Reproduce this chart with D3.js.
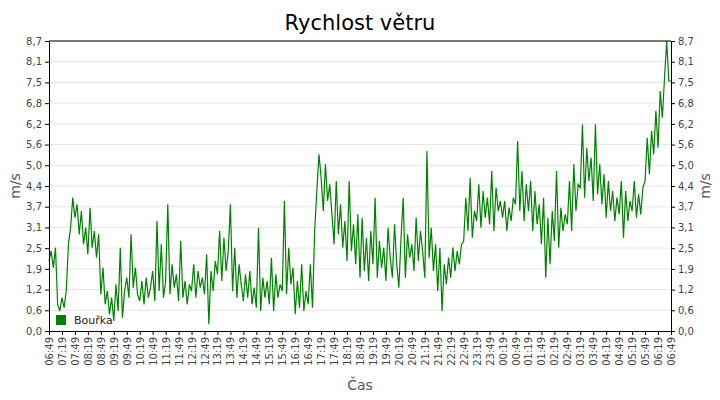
<!DOCTYPE html>
<html><head><meta charset="utf-8">
<script src="https://cdn.jsdelivr.net/npm/d3@7"></script>
<style>body{margin:0;background:#fff}text{font-family:"DejaVu Sans",sans-serif}</style>
</head><body><div id="chart"></div>
<script>
const title = 'Rychlost větru';
const seriesName = 'Bouřka';
const startTime = new Date(2020, 0, 1, 6, 49);
const stepMinutes = 5;
// m/s, one value per 5 minutes, 06:49 -> 06:49
const windValues = [
 2.1,2.4,1.9,2.5,0.8,0.6, 1.0,0.7,1.2,2.6,3.1,4.0,
 3.4,3.8,2.9,3.6,2.6,3.1, 2.3,3.7,2.5,3.0,2.2,2.9,
 1.1,1.9,0.8,1.2,0.5,1.0, 0.3,1.4,0.6,2.5,0.4,1.2,
 1.6,1.0,2.9,1.3,1.9,1.1, 0.9,1.5,0.8,1.6,1.0,1.3,
 1.8,0.9,3.3,1.2,2.6,1.0, 1.5,3.8,1.1,2.0,1.3,1.7,
 0.9,2.7,1.0,1.5,0.8,1.4, 1.2,2.0,1.0,1.8,1.3,1.6,
 1.1,2.3,0.2,1.8,1.2,2.1, 1.7,3.0,1.5,2.8,1.8,2.4,
 3.8,1.2,2.5,1.0,2.0,1.4, 0.9,1.7,1.0,1.8,0.8,1.3,
 0.7,3.1,0.6,1.6,1.0,1.5, 0.8,2.2,0.6,1.7,1.0,1.4,
 1.2,3.9,1.1,2.5,1.4,1.9, 0.5,1.5,0.7,2.0,0.6,1.2,
 0.8,2.0,0.7,3.0,4.2,5.3, 4.6,3.6,5.0,3.9,4.4,3.5,
 2.6,4.5,2.9,3.8,2.5,3.3, 2.1,4.5,2.4,3.2,2.0,3.5,
 1.6,3.4,1.8,2.8,1.5,3.0, 2.0,4.0,1.6,2.7,1.9,2.5,
 1.5,3.1,2.2,1.6,3.2,2.0, 1.3,2.8,4.0,1.6,2.9,2.2,
 2.6,1.8,3.4,2.1,3.0,2.4, 1.6,5.4,2.2,3.1,1.8,2.6,
 1.2,2.5,0.6,2.0,1.4,2.2, 1.6,2.5,1.8,2.4,2.0,2.6,
 2.7,4.0,3.0,4.6,2.8,3.6, 3.3,4.4,3.1,4.2,3.4,4.0,
 3.2,4.8,3.0,4.3,3.6,3.9, 3.4,3.9,3.0,3.7,3.3,4.0,
 3.8,5.7,3.6,4.8,3.3,4.4, 3.6,4.5,3.0,4.2,3.2,3.8,
 2.6,4.0,1.6,3.4,2.0,3.6, 2.7,4.8,2.5,3.7,3.0,3.5,
 3.2,4.5,3.0,5.0,3.6,4.4, 4.3,6.2,4.0,5.5,4.5,5.2,
 3.9,6.2,4.1,5.0,3.8,4.7, 3.4,4.5,3.6,4.2,3.3,4.0,
 3.5,4.5,2.8,4.2,3.3,3.9, 3.6,4.5,3.4,4.1,3.5,4.3,
 4.5,5.8,4.7,6.0,5.3,6.6, 5.5,7.2,6.4,7.6,8.7,7.5
];

const W = 720, H = 400;
const m = {top: 41, right: 49, bottom: 69, left: 49};
const w = W - m.left - m.right, h = H - m.top - m.bottom;

const data = windValues.map((v, i) => ({t: new Date(+startTime + i * stepMinutes * 60000), v}));
const endTime = new Date(+startTime + 24 * 3600000);

const svg = d3.select('#chart').append('svg').attr('width', W).attr('height', H);
const g = svg.append('g').attr('transform', `translate(${m.left},${m.top})`);

const x = d3.scaleTime().domain([startTime, endTime]).range([0, w]);
const y = d3.scaleLinear().domain([0, 8.7]).range([h, 0]);
const yTicks = d3.range(15).map(i => i * 8.7 / 14);
const fmt = v => (Math.round(v * 10 + 1e-6) / 10).toFixed(1).replace('.', ',');
const xTicks = d3.range(49).map(i => new Date(+startTime + i * 30 * 60000));

g.selectAll('.grid').data(yTicks.slice(1)).enter().append('line')
	.attr('x1', 0).attr('x2', w).attr('y1', d => y(d)).attr('y2', d => y(d))
	.attr('stroke', '#e6e6e6');

// legend sits under the line
g.append('rect').attr('x', 7).attr('y', h - 16).attr('width', 10).attr('height', 10).attr('fill', '#008000');
g.append('text').attr('x', 25).attr('y', h - 7).attr('font-size', 11).attr('fill', '#222').text(seriesName);

g.append('path').datum(data.concat([{t: endTime, v: windValues[windValues.length - 1]}]))
	.attr('fill', 'none').attr('stroke', '#008000').attr('stroke-width', 1.2)
	.attr('d', d3.line().x(d => x(d.t)).y(d => y(d.v)));

function styleAxis(sel) {
	sel.selectAll('text').attr('fill', '#444').attr('font-size', 10);
	sel.selectAll('line,path').attr('stroke', '#000');
}
g.append('g').call(d3.axisLeft(y).tickValues(yTicks).tickFormat(fmt).tickSize(4)).call(styleAxis);
g.append('g').attr('transform', `translate(${w},0)`)
	.call(d3.axisRight(y).tickValues(yTicks).tickFormat(fmt).tickSize(4)).call(styleAxis);
g.append('line').attr('x1', 0).attr('x2', w).attr('y1', 0).attr('y2', 0).attr('stroke', '#000');

const xa = g.append('g').attr('transform', `translate(0,${h})`)
	.call(d3.axisBottom(x).tickValues(xTicks).tickFormat(d3.timeFormat('%H:%M')).tickSize(4)).call(styleAxis);
xa.selectAll('text').attr('transform', 'rotate(-90)').attr('text-anchor', 'end')
	.attr('x', -6).attr('y', 0).attr('dy', '0.35em');

svg.append('text').attr('x', W / 2).attr('y', 30).attr('text-anchor', 'middle')
	.attr('font-size', 21).attr('fill', '#000').text(title);
svg.append('text').attr('transform', `translate(20,${m.top + h / 2}) rotate(-90)`)
	.attr('text-anchor', 'middle').attr('font-size', 14).attr('fill', '#555').text('m/s');
svg.append('text').attr('transform', `translate(${W - 10},${m.top + h / 2}) rotate(-90)`)
	.attr('text-anchor', 'middle').attr('font-size', 14).attr('fill', '#555').text('m/s');
svg.append('text').attr('x', m.left + w / 2).attr('y', 390).attr('text-anchor', 'middle')
	.attr('font-size', 14).attr('fill', '#555').text('Čas');
</script></body></html>
